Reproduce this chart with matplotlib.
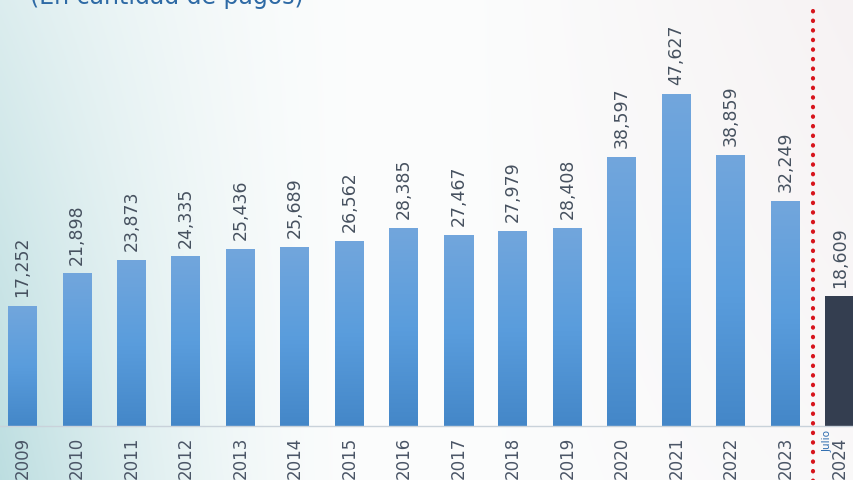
import numpy as np
import matplotlib.pyplot as plt
from matplotlib.colors import LinearSegmentedColormap

years = ["2009", "2010", "2011", "2012", "2013", "2014", "2015", "2016",
         "2017", "2018", "2019", "2020", "2021", "2022", "2023", "2024"]
values = [17252, 21898, 23873, 24335, 25436, 25689, 26562, 28385,
          27467, 27979, 28408, 38597, 47627, 38859, 32249, 18609]
title = "(En cantidad de pagos)"
last_note = "Julio"

W, H = 854, 481
fig = plt.figure(figsize=(W / 100, H / 100), dpi=100)

# background gradient (row 0 = top)
bg = fig.add_axes([0, 0, 1, 1])
bg.set_axis_off()
yy, xx = np.mgrid[0:1:200j, 0:1:400j]
t = np.clip(1 - xx / 0.42, 0, 1) ** 1.6 * (0.5 + 0.5 * yy)
teal = np.array([0.74, 0.87, 0.88])
white = np.array([0.985, 0.99, 0.99])
pink = np.array([0.965, 0.945, 0.95])
p = (np.clip((xx - 0.55) / 0.45, 0, 1) * np.clip(1 - yy * 0.6, 0, 1))[..., None] * 0.9
img = white * (1 - t[..., None]) + teal * t[..., None]
img = img * (1 - p) + pink * p
bg.imshow(img, extent=[0, 1, 0, 1], aspect="auto", origin="upper")
bg.set_xlim(0, 1)
bg.set_ylim(0, 1)

base_px = 427
px_per_unit = 332 / 47627
ax = fig.add_axes([0, (H - base_px) / H, 1, base_px / H])
ax.patch.set_alpha(0)
step = 54.5
x0 = 22.5
ax.set_xlim(-x0 / step, (W - x0) / step)
ax.set_ylim(0, base_px / px_per_unit)
for s in ax.spines.values():
    s.set_visible(False)
ax.set_xticks([])
ax.set_yticks([])

cmap = LinearSegmentedColormap.from_list("b", ["#4487c8", "#5a9ddd", "#72a6dc"])
grad = np.linspace(0, 1, 256).reshape(-1, 1)
bw = 29 / step
xs = np.arange(len(years))
for i, (x, v) in enumerate(zip(xs, values)):
    if i == len(years) - 1:
        ax.bar(x, v, width=bw, color="#343e50", zorder=2)
    else:
        bars = ax.bar(x, v, width=bw, color="none", zorder=2)
        im = ax.imshow(grad, extent=[x - bw / 2, x + bw / 2, 0, v], origin="lower",
                       cmap=cmap, aspect="auto", zorder=2)
        im.set_clip_path(bars[0])
    ax.annotate(f"{v:,}", (x, v), xytext=(0, 7), textcoords="offset points",
                rotation=90, ha="center", va="bottom", fontsize=12.5,
                color="#46515f", family="DejaVu Sans")

# baseline
ax.axhline(0, color="#c9d2da", lw=1, zorder=3, clip_on=False)

# divider
ax.axvline(xs[-1] - 0.5, ymin=-0.15, ymax=0.975, color="#d7141c", lw=3,
           ls=(0, (0.1, 2.2)), dash_capstyle="round", clip_on=False, zorder=4)

# x labels
for i, (x, lab) in enumerate(zip(xs, years)):
    ax.annotate(lab, (x, 0), xytext=(0, -7), textcoords="offset points",
                rotation=90, ha="center", va="top", fontsize=12,
                color="#4a5566", annotation_clip=False)
ax.annotate(last_note, (xs[-1], 0), xytext=(-9, -2), textcoords="offset points",
            rotation=90, ha="center", va="top", fontsize=7.5,
            color="#2f6db0", annotation_clip=False)

fig.text(167 / W, 1 + 3 / H, title, ha="center", va="center", fontsize=17,
         color="#2e6aa5")

fig.savefig("out.png", dpi=100)
